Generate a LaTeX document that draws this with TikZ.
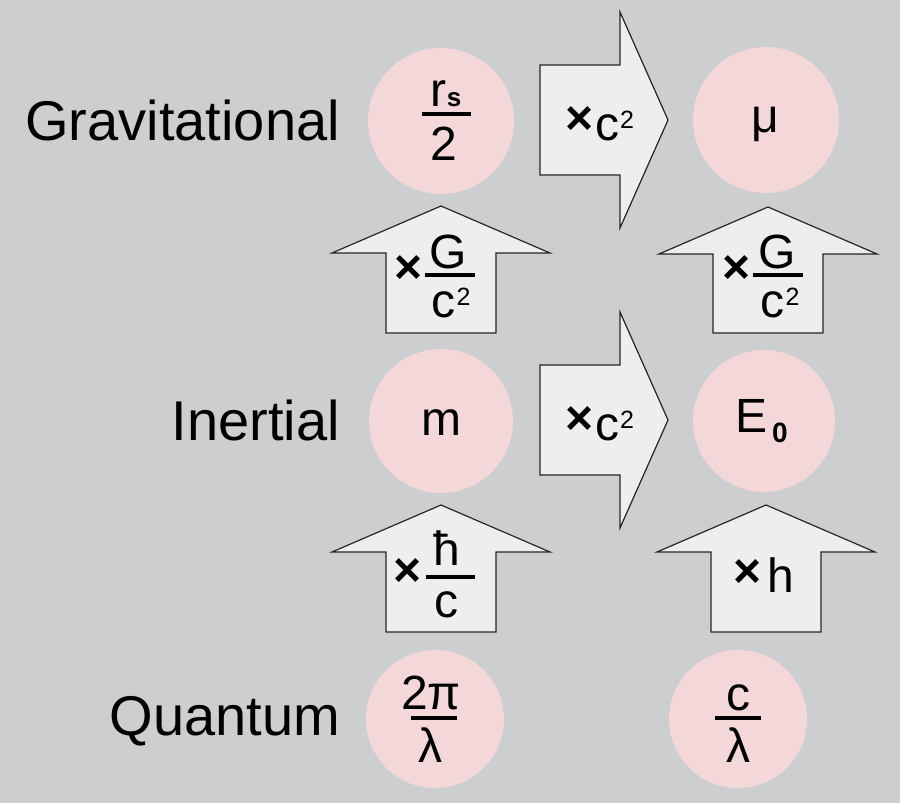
\documentclass[tikz,border=0pt]{standalone}
\usepackage{fontspec}
\setmainfont{Liberation Sans}
\definecolor{bgc}{RGB}{205,206,208}
\definecolor{pinkc}{RGB}{244,215,216}
\definecolor{arrf}{RGB}{238,238,240}
\newcommand\rblock[1]{%
  \draw[blk] (540,#1-55) -- (620,#1-55) -- (620,#1-108) -- (668,#1)
    -- (620,#1+108) -- (620,#1+55) -- (540,#1+55) -- cycle;}
\newcommand\ublock[3]{%
  \draw[blk] (#1,#2) -- (#1+109,#2+47) -- (#1+55,#2+47) -- (#1+55,#3)
    -- (#1-55,#3) -- (#1-55,#2+47) -- (#1-109,#2+47) -- cycle;}
\newcommand\supii{\kern1pt\raisebox{12pt}{\fontsize{25}{25}\selectfont 2}}
\begin{document}
\begin{tikzpicture}[x=1pt,y=-1pt,
  bubble/.style={circle,fill=pinkc,inner sep=0pt},
  blk/.style={fill=arrf,draw=black!85,line width=1.2pt,line join=miter},
  lab/.style={font=\fontsize{56}{60}\selectfont,anchor=base east,inner sep=0pt},
  sym/.style={font=\fontsize{48}{52}\selectfont,anchor=base,inner sep=0pt},
  timesx/.style={font=\fontsize{48}{52}\selectfont\bfseries,anchor=center,inner sep=0pt},
  fbar/.style={line width=3.2pt}]
\fill[bgc] (0,0) rectangle (900,803);
\useasboundingbox (0,0) rectangle (900,803);

% row labels
\node[lab] (grav) at (340,140) {Gravitational};
\node[lab] (inert) at (340,440) {Inertial};
\node[lab] (quant) at (340,735) {Quantum};

% circles
\node[bubble,minimum size=146pt] (rs) at (441,121) {};
\node[bubble,minimum size=146pt] (mu) at (766,120) {};
\node[bubble,minimum size=144pt] (m) at (441,421) {};
\node[bubble,minimum size=142pt] (E) at (764,421) {};
\node[bubble,minimum size=138pt] (k) at (435,719) {};
\node[bubble,minimum size=138pt] (f) at (738,719) {};

% block arrows
\rblock{120}
\rblock{420}
\ublock{441}{206}{333}
\ublock{768}{207}{333}
\ublock{441}{505}{632}
\ublock{766}{505}{632}

% circle contents
\node[sym] (rsnum) at (446,106) {r{\fontsize{26}{26}\selectfont\bfseries s}};
\draw[fbar] (422,114) -- (471,114);
\node[sym] (rsden) at (444,160) {2};
\node[sym] (mutxt) at (765,132) {μ};
\node[sym] (mtxt) at (441,435) {m};
\node[sym,anchor=base west] (Etxt) at (735,432) {E\kern5pt\raisebox{-10pt}{\fontsize{28}{28}\selectfont\bfseries 0}};
\node[sym] (knum) at (431,709) {2π};
\draw[fbar] (411,718) -- (457,718);
\node[sym] (kden) at (430,762) {λ};
\node[sym] (fnum) at (738,710) {c};
\draw[fbar] (715,718) -- (761,718);
\node[sym] (fden) at (738,762) {λ};

% arrow labels
\node[timesx] (xc1) at (580,121) {×};
\node[sym,anchor=base west] (c2a) at (595,140) {c\supii};
\node[timesx] (xc2) at (580,421) {×};
\node[sym,anchor=base west] (c2b) at (595,440) {c\supii};

\node[timesx] (xg1) at (409,270) {×};
\node[sym] (g1) at (448,268) {G};
\draw[fbar] (425,275) -- (475,275);
\node[sym] (c21) at (451,317) {c\supii};

\node[timesx] (xg2) at (737,270) {×};
\node[sym] (g2) at (777,268) {G};
\draw[fbar] (753,275) -- (803,275);
\node[sym] (c22) at (780,317) {c\supii};

\node[timesx] (xhb) at (408,573) {×};
\node[sym] (hbar) at (447,565) {ħ};
\draw[fbar] (426,577) -- (475,577);
\node[sym] (hc) at (446,617) {c};

\node[timesx] (xh) at (748,574) {×};
\node[sym] (htxt) at (781,592) {h};
\end{tikzpicture}
\end{document}
